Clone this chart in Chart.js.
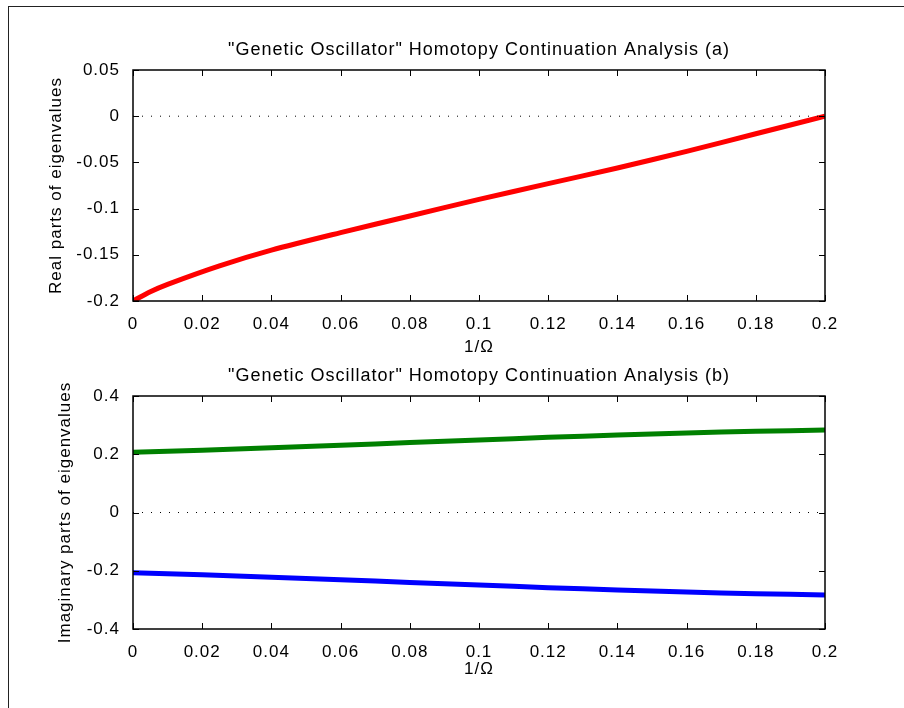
<!DOCTYPE html>
<html>
<head>
<meta charset="utf-8">
<script src="https://cdn.jsdelivr.net/npm/chart.js@4.4.1/dist/chart.umd.min.js"></script>
<style>
  html, body { margin: 0; padding: 0; background: #fff; }
  #page { position: relative; width: 904px; height: 708px; overflow: hidden; }
  #frame { position: absolute; left: 8px; top: 6px; width: 900px; height: 710px; border-left: 1px solid #222; border-top: 1px solid #222; }
  #plotA { position: absolute; left: 0; top: 0; }
  #plotB { position: absolute; left: 0; top: 350px; }
</style>
</head>
<body>
<div id="page">
  <div id="frame"></div>
  <canvas id="plotA" width="904" height="360"></canvas>
  <canvas id="plotB" width="904" height="330"></canvas>
</div>
<script>
const plotA = document.getElementById('plotA')
const plotB = document.getElementById('plotB')

// 1/Omega values and eigenvalue parts
const invOmegaA = [0, 0.005, 0.01, 0.025, 0.04, 0.06, 0.08, 0.1, 0.12, 0.14, 0.16, 0.18, 0.2]
const realPart = [-0.2, -0.19, -0.182, -0.162, -0.145, -0.126, -0.108, -0.09, -0.073, -0.056, -0.038, -0.019, 0]
const invOmegaB = [0, 0.02, 0.04, 0.06, 0.08, 0.1, 0.12, 0.14, 0.16, 0.18, 0.2]
const imagPos = [0.207, 0.214, 0.222, 0.231, 0.24, 0.249, 0.258, 0.266, 0.273, 0.279, 0.283]
const imagNeg = [-0.207, -0.214, -0.222, -0.231, -0.24, -0.249, -0.258, -0.266, -0.273, -0.279, -0.283]
const zeroLineX = [0, 0.2]
const zeroLineY = [0, 0]

const titleA = '"Genetic Oscillator" Homotopy Continuation Analysis (a)'
const titleB = '"Genetic Oscillator" Homotopy Continuation Analysis (b)'

Chart.defaults.font.family = 'Liberation Sans, Arial, sans-serif'
Chart.defaults.color = '#000'
Chart.defaults.animation = false
Chart.defaults.plugins.legend.display = false
Chart.defaults.plugins.tooltip.enabled = false

const pts = (xs, ys) => xs.map((x, i) => ({x: x, y: ys[i]}))
const fmt = (v) => String(Math.round(v * 1000) / 1000)

// the reference text is set a little wide, so space the letters out
const spacing = {
  id: 'spacing',
  beforeUpdate(chart) { chart.ctx.letterSpacing = '1px' },
  beforeDraw(chart) { chart.ctx.letterSpacing = '1px' },
}

// title centred over the axes box, not over the whole canvas
const axesTitle = {
  id: 'axesTitle',
  afterDraw(chart, args, opts) {
    const {ctx, chartArea: a} = chart
    ctx.save()
    ctx.letterSpacing = '1px'
    ctx.font = '18px Liberation Sans, Arial, sans-serif'
    ctx.fillStyle = '#000'
    ctx.textAlign = 'center'
    ctx.textBaseline = 'middle'
    ctx.fillText(opts.text, (a.left + a.right) / 2, a.top - opts.gap)
    ctx.restore()
  }
}

// box round the axes, with ticks pointing inwards on all four sides
const boxTicks = {
  id: 'boxTicks',
  afterDatasetsDraw(chart) {
    const {ctx, chartArea: a, scales} = chart
    const len = 6
    ctx.save()
    ctx.strokeStyle = '#000'
    ctx.lineWidth = 1
    ctx.beginPath()
    scales.x.ticks.forEach((t) => {
      const px = Math.round(scales.x.getPixelForValue(t.value)) + 0.5
      ctx.moveTo(px, a.bottom); ctx.lineTo(px, a.bottom - len)
      ctx.moveTo(px, a.top); ctx.lineTo(px, a.top + len)
    })
    scales.y.ticks.forEach((t) => {
      const py = Math.round(scales.y.getPixelForValue(t.value)) + 0.5
      ctx.moveTo(a.left, py); ctx.lineTo(a.left + len, py)
      ctx.moveTo(a.right, py); ctx.lineTo(a.right - len, py)
    })
    ctx.stroke()
    ctx.lineWidth = 1.5
    ctx.strokeRect(a.left, a.top, a.right - a.left, a.bottom - a.top)
    ctx.restore()
  }
}

function makeOptions(title, top, yTitle, yMin, yMax, yStep, yTitlePad, xHeight, xTitlePad) {
  return {
    responsive: false,
    layout: {padding: {left: 0, right: 79, top: top, bottom: 0}},
    plugins: {
      title: {display: false},
      axesTitle: {text: title, gap: 20},
    },
    scales: {
      x: {
        type: 'linear', min: 0, max: 0.2,
        grid: {display: false},
        border: {display: false},
        ticks: {stepSize: 0.02, padding: 5, font: {size: 17}, maxRotation: 0, callback: fmt},
        title: {display: true, text: '1/Ω', font: {size: 17, lineHeight: 1}, padding: {top: 0, bottom: xTitlePad}},
        afterFit: (s) => { s.height = xHeight },
      },
      y: {
        min: yMin, max: yMax,
        grid: {display: false},
        border: {display: false},
        ticks: {stepSize: yStep, padding: 5, font: {size: 17}, callback: fmt},
        title: {display: true, text: yTitle, font: {size: 17, lineHeight: 1}, padding: {top: yTitlePad, bottom: 0}},
        afterFit: (s) => { s.width = 133 },
      },
    },
  }
}

const dotted = (xs, ys) => ({
  data: pts(xs, ys),
  borderColor: '#000',
  borderWidth: 1,
  borderDash: [1, 8],
  pointRadius: 0,
})

new Chart(plotA, {
  type: 'line',
  data: {
    datasets: [
      dotted(zeroLineX, zeroLineY),
      {data: pts(invOmegaA, realPart), borderColor: '#ff0000', borderWidth: 5, pointRadius: 0, tension: 0.3},
    ],
  },
  options: makeOptions(titleA, 70, 'Real parts of eigenvalues', -0.2, 0.05, 0.05, 48, 59, 4),
  plugins: [spacing, boxTicks, axesTitle],
})

new Chart(plotB, {
  type: 'line',
  data: {
    datasets: [
      dotted(zeroLineX, zeroLineY),
      {data: pts(invOmegaB, imagPos), borderColor: '#008000', borderWidth: 5, pointRadius: 0, tension: 0.3},
      {data: pts(invOmegaB, imagNeg), borderColor: '#0000ff', borderWidth: 5, pointRadius: 0, tension: 0.3},
    ],
  },
  options: makeOptions(titleB, 46, 'Imaginary parts of eigenvalues', -0.4, 0.4, 0.2, 57, 51, 2),
  plugins: [spacing, boxTicks, axesTitle],
})
</script>
</body>
</html>
